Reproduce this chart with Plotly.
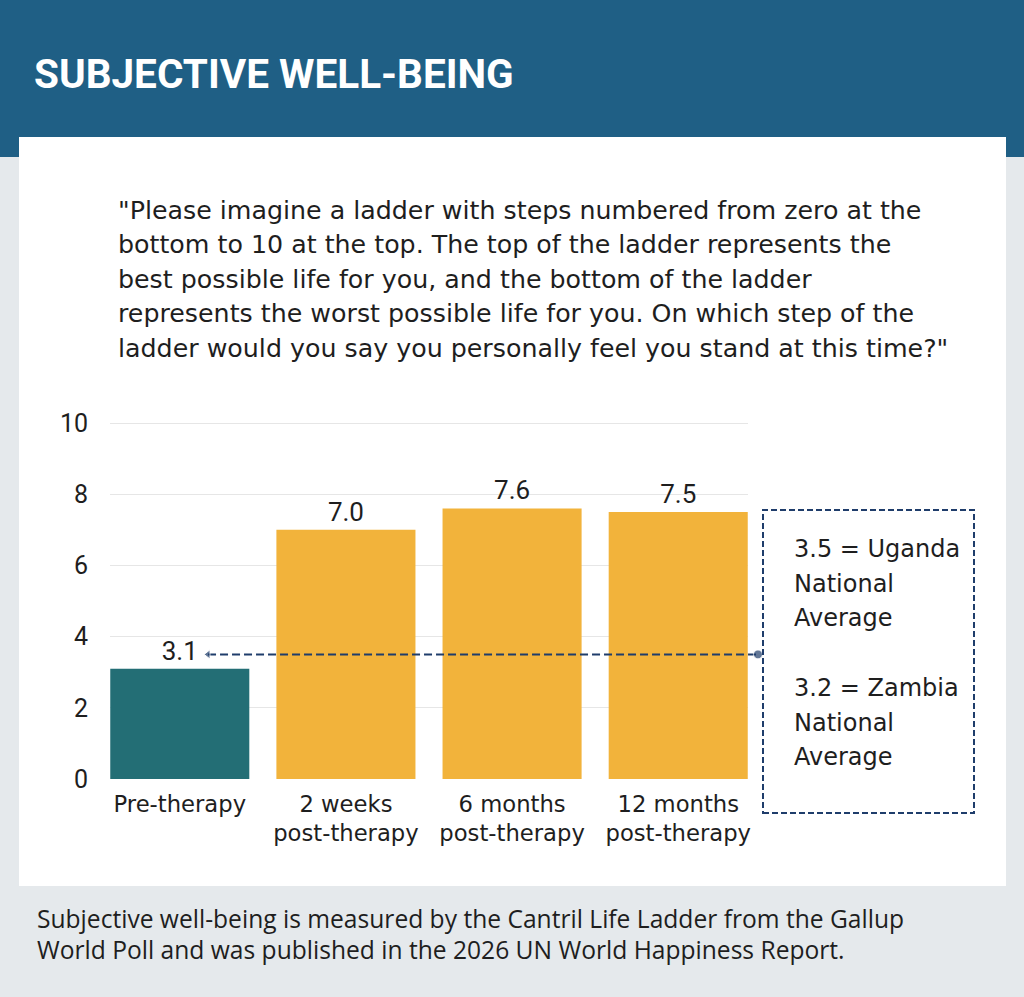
import plotly.graph_objects as go

# ---- data ----
categories = ["Pre-therapy", "2 weeks<br>post-therapy", "6 months<br>post-therapy", "12 months<br>post-therapy"]
scores = [3.1, 7.0, 7.6, 7.5]
bar_colors = ["#236E75", "#F2B33B", "#F2B33B", "#F2B33B"]
value_labels = ["3.1", "7.0", "7.6", "7.5"]
uganda_avg = 3.5
zambia_avg = 3.2
y_ticks = [0, 2, 4, 6, 8, 10]

title_text = "SUBJECTIVE WELL-BEING"
quote_lines = [
    '"Please imagine a ladder with steps numbered from zero at the',
    'bottom to 10 at the top. The top of the ladder represents the',
    'best possible life for you, and the bottom of the ladder',
    'represents the worst possible life for you. On which step of the',
    'ladder would you say you personally feel you stand at this time?"',
]
box_lines = [
    f"{uganda_avg} = Uganda", "National", "Average", "",
    f"{zambia_avg} = Zambia", "National", "Average",
]
footer_lines = [
    "Subjective well-being is measured by the Cantril Life Ladder from the Gallup",
    "World Poll and was published in the 2026 UN World Happiness Report.",
]

W, H = 1024, 997
NAVY = "#1F3D6B"
TXT = "#1E1E1E"


def px(x):
    return x / W


def py(y):
    return 1 - y / H


x_pos = list(range(len(categories)))

fig = go.Figure()

fig.add_trace(go.Bar(
    x=x_pos, y=scores, marker_color=bar_colors, marker_line_width=0,
    text=value_labels, textposition="outside", cliponaxis=False,
    textfont=dict(family="Roboto", size=26, color=TXT),
    width=0.837, hoverinfo="skip",
))

# national average reference line (Uganda), drawn on a wider invisible axis pair
fig.add_trace(go.Scatter(
    x=[0.17, 3.48], y=[uganda_avg, uganda_avg], mode="lines+markers",
    xaxis="x2", yaxis="y2",
    line=dict(color=NAVY, width=2, dash="8px,4px"),
    marker=dict(symbol=["triangle-left", "circle"], size=[8, 9], color=NAVY),
    cliponaxis=False, hoverinfo="skip",
))

shapes = [
    dict(type="rect", xref="paper", yref="paper", x0=0, x1=1, y0=py(157), y1=1,
         fillcolor="#1F5F85", line_width=0, layer="below"),
    dict(type="rect", xref="paper", yref="paper", x0=px(19), x1=px(1006), y0=py(886), y1=py(137),
         fillcolor="white", line_width=0, layer="below"),
    dict(type="rect", xref="paper", yref="paper", x0=px(763), x1=px(974), y0=py(813), y1=py(510),
         fillcolor="rgba(0,0,0,0)", line=dict(color=NAVY, width=2, dash="6px,3px"), layer="above"),
]

annotations = [
    dict(text=f"<b>{title_text}</b>", xref="paper", yref="paper", x=px(32), y=py(74),
         xanchor="left", yanchor="middle", showarrow=False,
         font=dict(family="Roboto", size=40.5, color="white")),
]
q_y0, q_dy = 210, 34.5
for i, line in enumerate(quote_lines):
    annotations.append(dict(text=line, xref="paper", yref="paper", x=px(116), y=py(q_y0 + i * q_dy),
                            xanchor="left", yanchor="middle", showarrow=False,
                            font=dict(family="DejaVu Sans", size=25.3, color=TXT)))
b_y0, b_dy = 549, 34.7
for i, line in enumerate(box_lines):
    if line:
        annotations.append(dict(text=line, xref="paper", yref="paper", x=px(792), y=py(b_y0 + i * b_dy),
                                xanchor="left", yanchor="middle", showarrow=False,
                                font=dict(family="DejaVu Sans", size=24, color=TXT)))
f_y0, f_dy = 918, 31
for i, line in enumerate(footer_lines):
    annotations.append(dict(text=line, xref="paper", yref="paper", x=px(35), y=py(f_y0 + i * f_dy),
                            xanchor="left", yanchor="middle", showarrow=False,
                            font=dict(family="Open Sans", size=24.6, color=TXT)))

y_top = 10.05
unit_y = (779 - 423) / 10.0
x_left_px, x_right_px = 110, 748
x_range = [-0.42, 3.42]
unit_x = (x_right_px - x_left_px) / (x_range[1] - x_range[0])
x2_right_px = 780
x2_range = [x_range[0], x_range[0] + (x2_right_px - x_left_px) / unit_x]
y_domain = [py(779), py(779 - unit_y * y_top)]

fig.update_layout(
    width=W, height=H, margin=dict(l=0, r=0, t=0, b=0, autoexpand=False),
    paper_bgcolor="#E5E9EC", plot_bgcolor="rgba(0,0,0,0)",
    showlegend=False, shapes=shapes, annotations=annotations,
    xaxis=dict(domain=[px(x_left_px), px(x_right_px)], range=x_range, showgrid=False, zeroline=False,
               showline=False, ticks="", tickvals=x_pos, ticktext=categories,
               ticklabelstandoff=9, automargin=False,
               tickfont=dict(family="DejaVu Sans", size=22.7, color=TXT)),
    yaxis=dict(domain=y_domain, range=[0, y_top], tickvals=y_ticks,
               showgrid=True, gridcolor="#E6E6E6", gridwidth=1, zeroline=False, showline=False,
               ticks="", ticklabelstandoff=21, automargin=False,
               tickfont=dict(family="Roboto", size=25, color=TXT)),
    xaxis2=dict(domain=[px(x_left_px), px(x2_right_px)], range=x2_range, visible=False,
                showgrid=False, zeroline=False, anchor="y2"),
    yaxis2=dict(domain=y_domain, range=[0, y_top], visible=False, showgrid=False,
                zeroline=False, anchor="x2"),
)

fig.write_html("out.html", config={"displayModeBar": False},
               post_script="document.body.style.margin='0';")
